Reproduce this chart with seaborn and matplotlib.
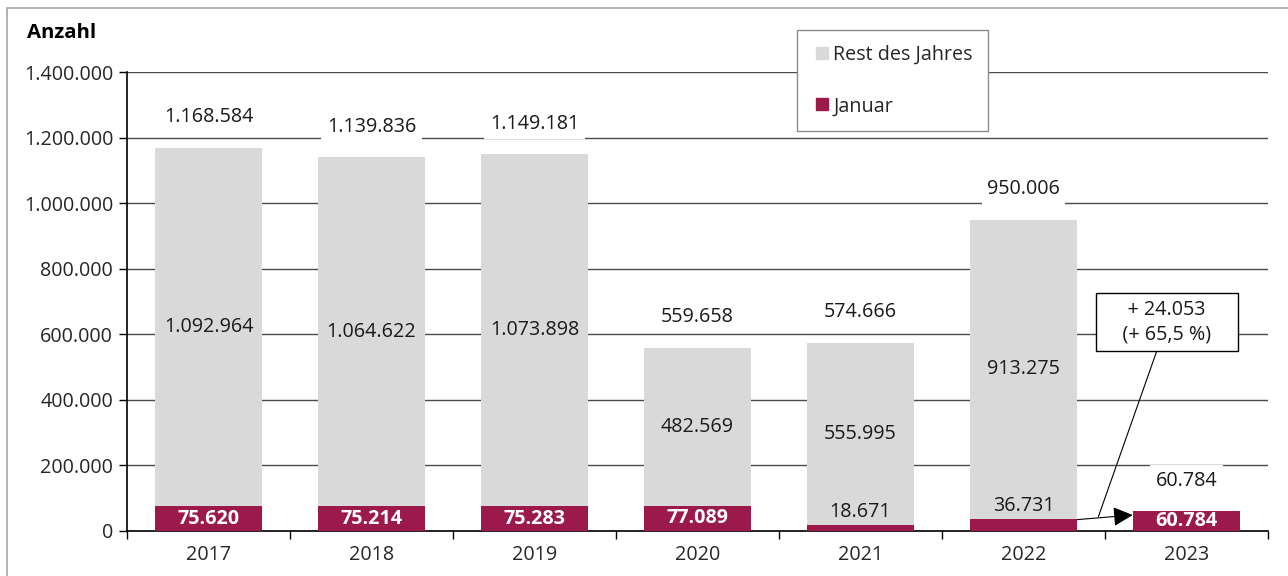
import matplotlib
matplotlib.use("Agg")
import matplotlib.pyplot as plt
import matplotlib.patches as mpatches
from matplotlib.lines import Line2D
from matplotlib.ticker import FuncFormatter, FixedLocator
import pandas as pd
import seaborn as sns

years = ["2017", "2018", "2019", "2020", "2021", "2022", "2023"]
januar = [75620, 75214, 75283, 77089, 18671, 36731, 60784]
rest = [1092964, 1064622, 1073898, 482569, 555995, 913275, 0]
totals = [1168584, 1139836, 1149181, 559658, 574666, 950006, 60784]
diff_lines = ["+ 24.053", "(+ 65,5 %)"]

MAROON = "#9B1A4B"
GREY = "#D9D9D9"
FONT = ["Open Sans", "DejaVu Sans"]
FS = 14.2


def de_fmt(v):
    return f"{int(round(v)):,}".replace(",", ".")


sns.set_theme(style="white")
plt.rcParams["font.family"] = FONT
plt.rcParams["font.size"] = FS

df = pd.DataFrame({"year": years, "januar": januar, "rest": rest, "total": totals})

fig = plt.figure(figsize=(12.88, 5.76), dpi=100)
ax = fig.add_axes([127 / 1288, 45 / 576, (1268 - 127) / 1288, (531 - 72) / 576])

BW = 0.66
sns.barplot(data=df, x="year", y="total", color=GREY, width=BW, ax=ax,
            saturation=1, linewidth=0, zorder=2)
sns.barplot(data=df, x="year", y="januar", color=MAROON, width=BW, ax=ax,
            saturation=1, linewidth=0, zorder=3)

ax.set_ylim(0, 1400000)
ax.set_xlim(-0.5, len(years) - 0.5)
ax.yaxis.set_major_locator(FixedLocator(range(0, 1400001, 200000)))
ax.yaxis.set_major_formatter(FuncFormatter(lambda v, p: de_fmt(v)))
ax.grid(axis="y", color="#4a4a4a", linewidth=1.0, zorder=0)
ax.set_axisbelow(True)
ax.set_xlabel("")
ax.set_ylabel("")

for s in ["top", "right"]:
    ax.spines[s].set_visible(False)
for s in ["left", "bottom"]:
    ax.spines[s].set_color("black")
    ax.spines[s].set_linewidth(1.2)

ax.tick_params(axis="y", which="major", direction="out", length=6, width=1,
               color="black", left=True, labelsize=FS, pad=4)
ax.tick_params(axis="x", which="major", length=0, labelsize=FS, pad=10)
ax.set_xticks(range(len(years)), minor=False)
ax.set_xticks([i - 0.5 for i in range(len(years) + 1)], minor=True)
ax.tick_params(axis="x", which="minor", direction="out", length=6, width=1,
               color="black", bottom=True)

for i, (j, r, t) in enumerate(zip(januar, rest, totals)):
    # Summe über dem Balken
    ax.annotate(de_fmt(t), (i, t), xytext=(0, 22), textcoords="offset points",
                ha="center", va="center", fontsize=FS, color="#1a1a1a",
                bbox=dict(facecolor="white", edgecolor="none", pad=4), zorder=5)
    if r > 0:
        ax.text(i, j + r / 2, de_fmt(r), ha="center", va="center",
                fontsize=FS, color="#1a1a1a", zorder=5)
    if j > 50000:
        ax.text(i, j / 2, de_fmt(j), ha="center", va="center", fontsize=FS,
                color="white", fontweight="bold", zorder=5)
    else:
        ax.annotate(de_fmt(j), (i, j), xytext=(0, 2), textcoords="offset points",
                    ha="center", va="bottom", fontsize=FS, color="#1a1a1a",
                    zorder=5)

# Pfeil Januar 2022 -> Januar 2023
ax.annotate("", xy=(6 - BW / 2, januar[6] - 12000), xytext=(5 + BW / 2, januar[5] - 2000),
            arrowprops=dict(arrowstyle="-|>", color="black", lw=0.8,
                            mutation_scale=30, shrinkA=0, shrinkB=0), zorder=6)
diff_label = "\n".join(f"    {s}    " for s in diff_lines)
ax.annotate(diff_label, xy=(5.46, 44500), xytext=(5.88, 637000),
            ha="center", va="center", fontsize=FS, color="#1a1a1a",
            linespacing=1.35,
            bbox=dict(boxstyle="square,pad=0.32", facecolor="white",
                      edgecolor="black", linewidth=1),
            arrowprops=dict(arrowstyle="-", color="black", lw=0.8,
                            shrinkA=0, shrinkB=0), zorder=6)

handles = [
    Line2D([], [], marker="s", linestyle="none", markersize=9,
           markerfacecolor=GREY, markeredgecolor=GREY, label="Rest des Jahres"),
    Line2D([], [], marker="s", linestyle="none", markersize=9,
           markerfacecolor=MAROON, markeredgecolor=MAROON, label="Januar"),
]
leg = fig.legend(handles=handles, loc="upper left",
                 bbox_to_anchor=(797 / 1288, 1 - 30 / 576), frameon=True,
                 fancybox=False, edgecolor="#8c8c8c", framealpha=1,
                 fontsize=FS, labelspacing=1.6, handletextpad=0.1,
                 handlelength=1.0, borderpad=0.75, borderaxespad=0)
leg.get_frame().set_linewidth(1)

fig.text(27 / 1288, 1 - 33 / 576, "Anzahl", ha="left", va="center",
         fontsize=FS + 0.5, fontweight="bold", color="black")

fig.patches.append(mpatches.Rectangle((7 / 1288, -0.1), 1.2, (576 - 8) / 576 + 0.1,
                                      transform=fig.transFigure, fill=False,
                                      edgecolor="#a6a6a6", linewidth=1.2))

fig.savefig("out.png", dpi=100)
